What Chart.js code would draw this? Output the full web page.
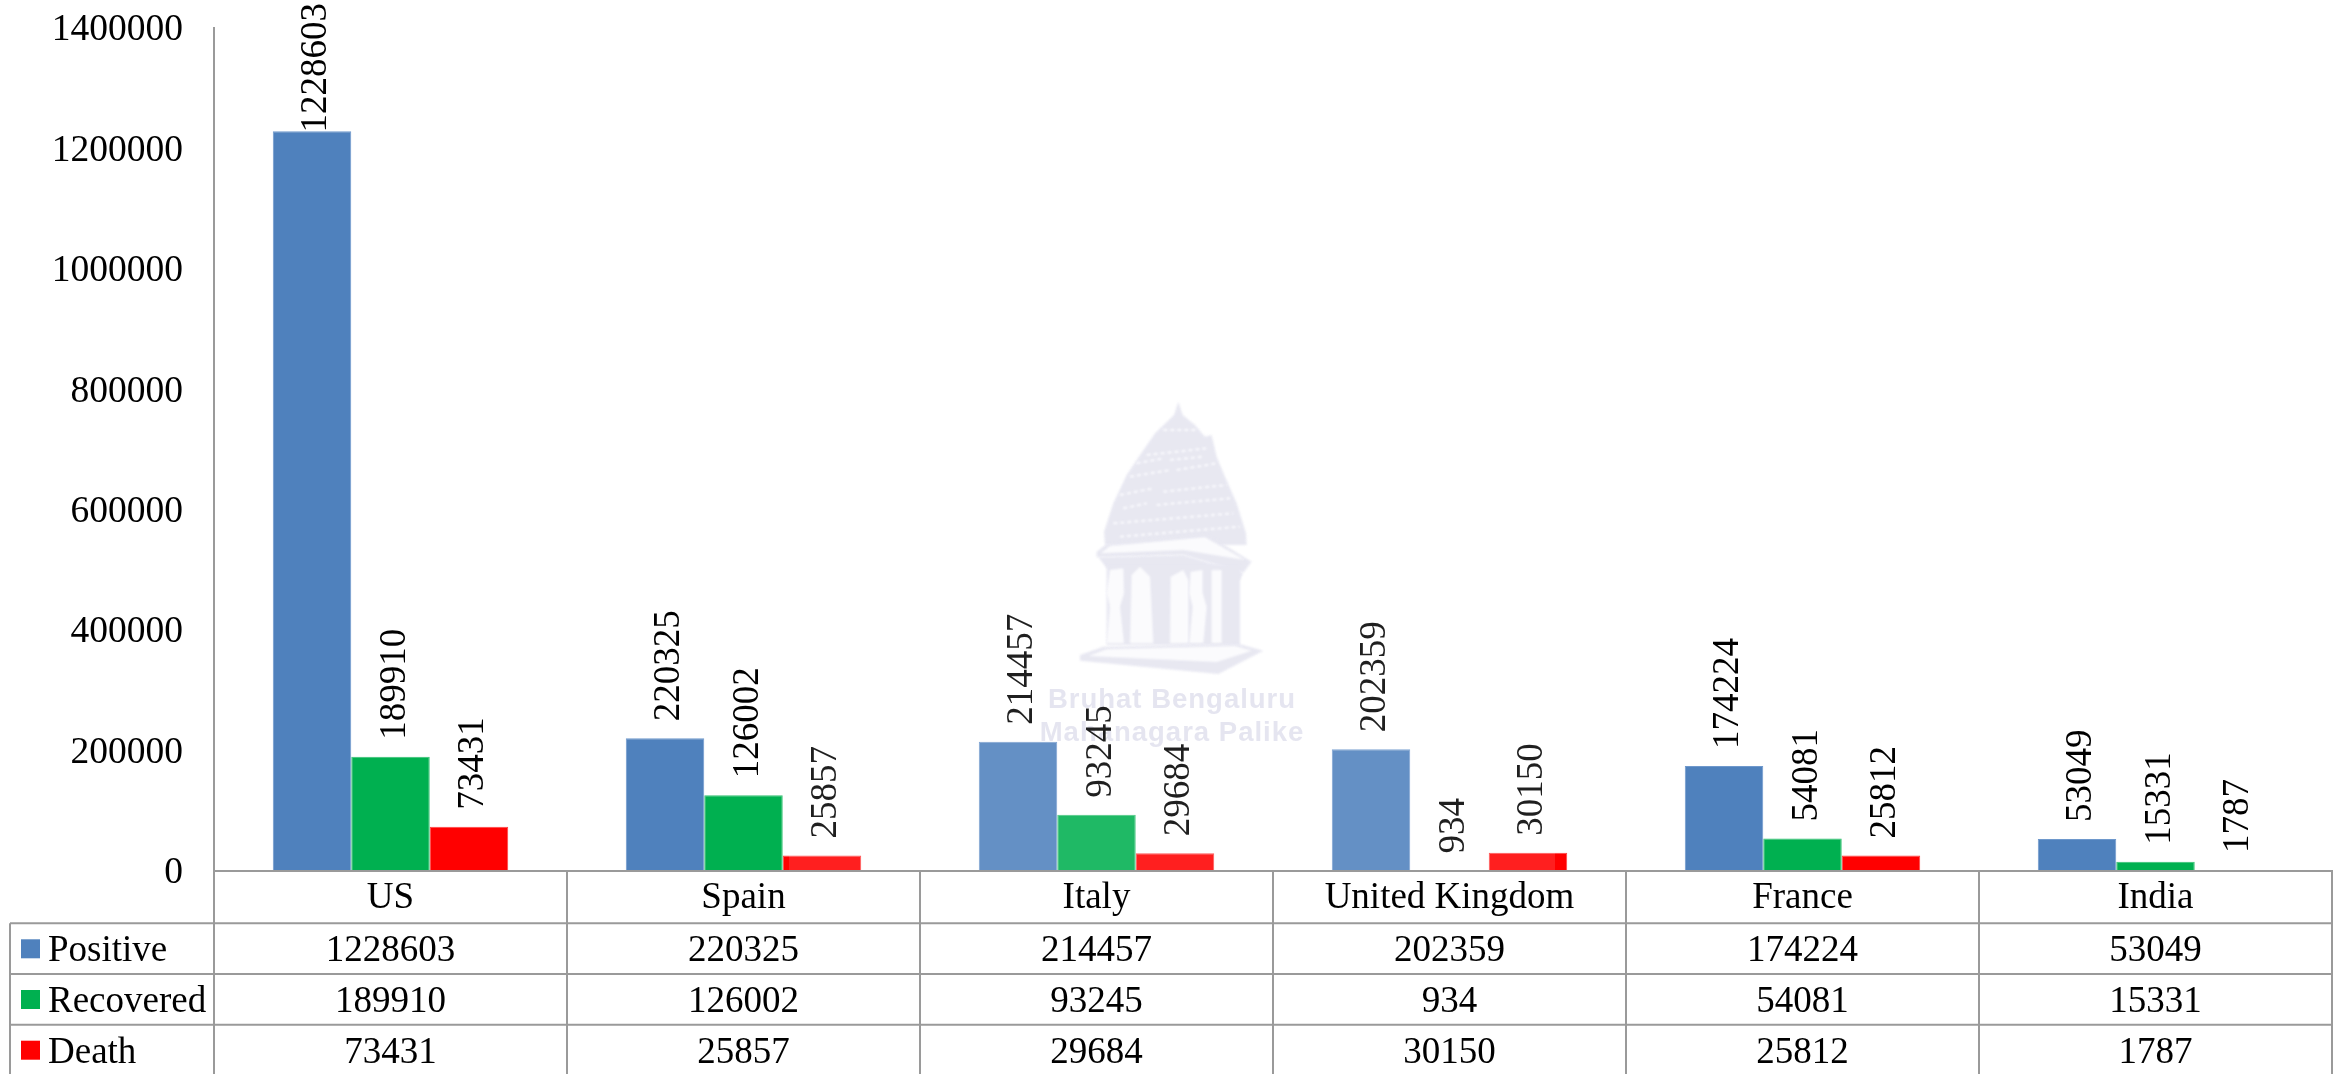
<!DOCTYPE html>
<html>
<head>
<meta charset="utf-8">
<style>html,body{margin:0;padding:0;background:#fff}canvas{display:block}</style>
<script src="https://cdn.jsdelivr.net/npm/chart.js@4"></script>
</head>
<body>
<canvas id="c" width="2341" height="1074"></canvas>
<script>
const categories = ["US","Spain","Italy","United Kingdom","France","India"];
const positive = [1228603,220325,214457,202359,174224,53049];
const recovered = [189910,126002,93245,934,54081,15331];
const death = [73431,25857,29684,30150,25812,1787];
const seriesNames = ["Positive","Recovered","Death"];
const seriesColors = ["#4F81BD","#00B050","#FF0000"];
const seriesEdges = ["#6E98CC","#33C070","#FF4040"];
const watermarkLines = ["Bruhat Bengaluru","Mahanagara Palike"];

const SERIF = '"Liberation Serif","Times New Roman",serif';
const LINE = "#9A9A9A";
const INK = "#000";

const watermark = {
  id:"watermark",
  beforeDatasetsDraw(chart){
    const c = chart.ctx;
    const P = (x,y)=>[950+x/3,380+y/3];
    const poly = (pts,fill)=>{
      c.beginPath();
      for(let i=0;i<pts.length;i+=2){const p=P(pts[i],pts[i+1]); i?c.lineTo(p[0],p[1]):c.moveTo(p[0],p[1]);}
      c.closePath(); c.fillStyle=fill; c.fill();
    };
    const pale="#E5E5F0", white="#FBFBFD";
    c.save();
    c.filter="blur(1.1px)";
    poly([685,65,698,105,735,135,765,170,785,165,800,230,825,290,860,370,888,460,890,495,465,495,462,455,490,370,530,285,570,225,615,160,672,105],pale);
    // carved tiers of the tower
    c.strokeStyle=white; c.lineWidth=2;
    [[640,150,740,150],[590,225,770,205],[540,290,660,270],[680,270,800,250],[510,345,610,325],[640,335,830,315],
     [490,430,850,400],[510,470,870,440],[560,250,640,235],[660,240,760,230],[520,385,590,370],[620,375,840,355]].forEach(s=>{
      const a=P(s[0],s[1]),b=P(s[2],s[3]);
      c.setLineDash([4,3]); c.beginPath(); c.moveTo(a[0],a[1]); c.lineTo(b[0],b[1]); c.stroke();
    });
    c.setLineDash([]);
    poly([470,492,770,462,905,545,880,578,700,525,440,532,440,515],pale);
    poly([480,498,765,472,885,540,700,510,452,520],white);
    poly([445,532,700,525,880,578,870,600,470,565],pale);
    poly([470,555,870,555,870,795,470,795],pale);
    const pillars=[[480,570,520,565,522,640,510,680,522,790,470,790,480,680,470,640],
      [545,585,570,560,600,590,610,790,540,790],
      [662,590,700,570,715,600,715,790,660,790],
      [722,575,758,570,758,640,770,680,760,790,718,790,728,680,718,640],
      [785,570,815,570,815,790,785,790]];
    pillars.forEach(p=>poly(p,white));
    poly([460,800,860,790,940,812,805,882,390,842,390,825],pale);
    poly([470,808,855,798,905,812,800,846,415,828],white);
    c.filter="none";
    c.fillStyle="#E2E2EE";
    c.textAlign="center"; c.textBaseline="middle";
    c.font='bold 27.5px "Liberation Sans",Arial,sans-serif';
    c.letterSpacing="1px";
    c.fillText(watermarkLines[0],1172,700);
    c.fillText(watermarkLines[1],1172,733);
    c.letterSpacing="0px";
    c.restore();
  }
};

const valueLabels = {
  id:"valueLabels",
  afterDatasetsDraw(chart){
    const c = chart.ctx;
    c.save();
    c.font='37px '+SERIF;
    c.fillStyle=INK; c.textAlign="left"; c.textBaseline="middle";
    chart.data.datasets.forEach((ds,di)=>{
      chart.getDatasetMeta(di).data.forEach((bar,i)=>{
        const s=String(ds.data[i]);
        const w=c.measureText(s).width;
        let start=bar.y-17;
        if(start-w<3) start=3+w;
        c.save();
        c.translate(bar.x+4.5,start);
        c.rotate(-Math.PI/2);
        c.fillText(s,0,0);
        c.restore();
      });
    });
    c.restore();
  }
};

const dataTable = {
  id:"dataTable",
  afterDraw(chart){
    const c=chart.ctx, a=chart.chartArea, x=chart.scales.x;
    const rowH=50.7, firstRow=a.bottom+52.3;
    const tableLeft=10, rows=[positive,recovered,death];
    const colW=(a.right-a.left)/categories.length;
    c.save();
    c.strokeStyle=LINE; c.lineWidth=2;
    c.beginPath();
    for(let k=0;k<3;k++){
      const y=firstRow+rowH*k;
      c.moveTo(tableLeft,y); c.lineTo(a.right,y);
    }
    c.moveTo(tableLeft,firstRow); c.lineTo(tableLeft,chart.height);
    for(let k=0;k<=categories.length;k++){
      const X=a.left+colW*k;
      c.moveTo(X,a.bottom); c.lineTo(X,chart.height);
    }
    c.moveTo(a.left,a.bottom); c.lineTo(a.right,a.bottom);
    c.stroke();
    c.textBaseline="middle";
    c.font='37px '+SERIF;
    rows.forEach((vals,r)=>{
      const cy=firstRow+rowH*r+rowH/2+3;
      c.fillStyle=seriesColors[r];
      c.fillRect(21,firstRow+rowH*r+16,19,19);
      c.fillStyle=INK;
      c.textAlign="left";
      c.fillText(seriesNames[r],48,cy);
      c.textAlign="center";
      vals.forEach((v,i)=>c.fillText(String(v),x.getPixelForValue(i),cy));
    });
    // pale overlay of the watermark image
    c.fillStyle="rgba(255,255,255,0.12)";
    c.fillRect(789,380,766,a.bottom-381);
    c.restore();
  }
};

new Chart(document.getElementById("c"),{
  type:"bar",
  data:{
    labels:categories,
    datasets:[positive,recovered,death].map((d,i)=>({
      label:seriesNames[i],data:d,
      backgroundColor:seriesColors[i],
      borderColor:seriesEdges[i],borderWidth:1,
      categoryPercentage:0.667,barPercentage:1
    }))
  },
  plugins:[watermark,valueLabels,dataTable],
  options:{
    responsive:false,animation:false,
    layout:{padding:{top:28,right:9,left:0,bottom:0}},
    plugins:{legend:{display:false},tooltip:{enabled:false},title:{display:false}},
    scales:{
      x:{
        grid:{display:false,drawTicks:false},
        border:{display:true,color:LINE,width:2},
        ticks:{color:INK,font:{family:SERIF,size:37},padding:5,maxRotation:0,autoSkip:false},
        afterFit(s){s.height=203;s.paddingLeft=0;s.paddingRight=0;}
      },
      y:{
        min:0,max:1400000,
        grid:{display:false,drawTicks:false},
        border:{display:true,color:LINE,width:2},
        ticks:{stepSize:200000,color:INK,font:{family:SERIF,size:37.5},padding:31,labelOffset:2.5,callback:v=>String(v)},
        afterFit(s){s.width=214;s.paddingTop=0;s.paddingBottom=0;}
      }
    }
  }
});
</script>
</body>
</html>
